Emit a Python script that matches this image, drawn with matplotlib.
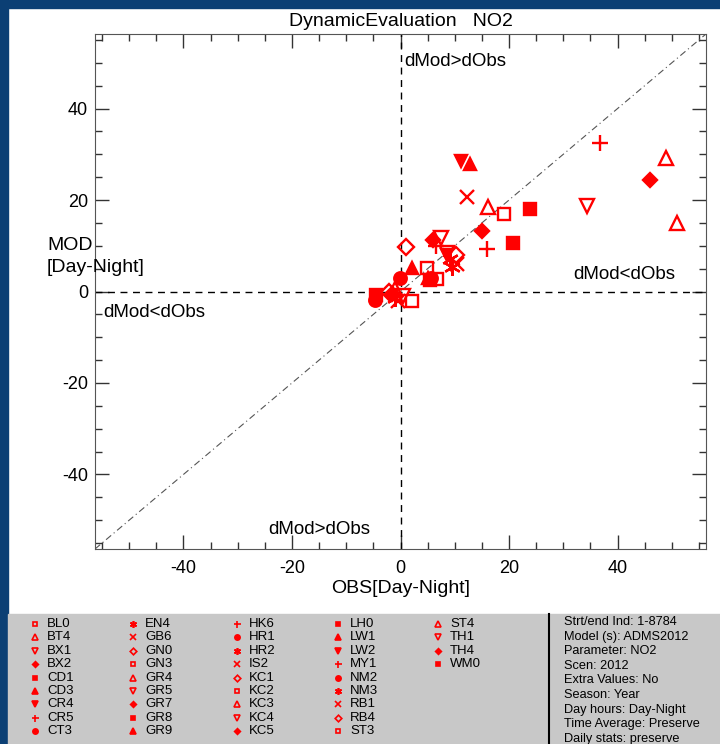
import numpy as np
import matplotlib.pyplot as plt
from matplotlib.patches import Rectangle

plt.rcParams['font.family'] = ['Liberation Sans', 'DejaVu Sans']
plt.rcParams['axes.unicode_minus'] = False

# sites, marker code, obs and mod (Day-Night differences)
sites = ['BL0', 'BT4', 'BX1', 'BX2', 'CD1', 'CD3', 'CR4', 'CR5', 'CT3', 'EN4',
         'GB6', 'GN0', 'GN3', 'GR4', 'GR5', 'GR7', 'GR8', 'GR9', 'HK6', 'HR1',
         'HR2', 'IS2', 'KC1', 'KC2', 'KC3', 'KC4', 'KC5', 'LH0', 'LW1', 'LW2',
         'MY1', 'NM2', 'NM3', 'RB1', 'RB4', 'ST3', 'ST4', 'TH1', 'TH4', 'WM0']
kinds = ['osq', 'otri', 'odtri', 'fdia', 'fsq', 'ftri', 'fdtri', 'plus', 'fcirc', 'ast',
         'x', 'odia', 'osq', 'otri', 'odtri', 'fdia', 'fsq', 'ftri', 'plus', 'fcirc',
         'ast', 'x', 'odia', 'osq', 'otri', 'odtri', 'fdia', 'fsq', 'ftri', 'fdtri',
         'plus', 'fcirc', 'ast', 'x', 'odia', 'osq', 'otri', 'odtri', 'fdia', 'fsq']
obs = [19.1, 48.9, 34.4, 46.0, 23.9, 12.9, 11.1, 36.8, -0.1, 9.1,
       12.3, 1.0, 4.9, 16.2, 8.6, 15.0, 20.7, 2.2, 15.9, 5.6,
       9.4, 10.4, 10.2, 6.7, -1.0, 7.4, 6.0, 5.4, 5.0, 8.5,
       6.5, -4.7, -1.0, -0.5, -2.2, 2.1, 50.9, 0.5, -1.5, -4.5]
mod = [17.0, 29.2, 18.7, 24.3, 18.1, 27.8, 28.5, 32.4, 3.0, 7.2,
       20.6, 9.7, 5.2, 18.4, 8.4, 13.2, 10.7, 5.2, 9.4, 3.0,
       5.4, 6.1, 7.9, 2.8, 0.5, 11.6, 11.2, 2.5, 3.0, 7.9,
       10.0, -1.9, -1.5, -2.0, -0.1, -2.0, 14.9, -1.0, -0.5, -0.8]

info = ['Strt/end Ind: 1-8784', 'Model (s): ADMS2012', 'Parameter: NO2',
        'Scen: 2012', 'Extra Values: No', 'Season: Year', 'Day hours: Day-Night',
        'Time Average: Preserve', 'Daily stats: preserve']

# marker, size, filled
styles = {'osq': ('s', 8.5, False), 'otri': ('^', 10, False), 'odtri': ('v', 10, False),
          'fdia': ('D', 7, True), 'fsq': ('s', 8, True), 'ftri': ('^', 9, True),
          'fdtri': ('v', 9, True), 'plus': ('+', 12, True), 'fcirc': ('o', 9, True),
          'ast': ((6, 2, 0), 12, True), 'x': ('x', 10, True), 'odia': ('D', 8, False)}

lim = 56.3
fig = plt.figure(figsize=(7.2, 7.44), dpi=100)
W, H = 720, 744

# frame and legend panel
fig.patches.append(Rectangle((0, 1 - 8 / H), 1, 8 / H, transform=fig.transFigure,
                             color='#0b3f74', zorder=0))
fig.patches.append(Rectangle((0, 0), 8 / W, 1, transform=fig.transFigure,
                             color='#0b3f74', zorder=0))
fig.patches.append(Rectangle((8 / W, 0), 1, 130 / H, transform=fig.transFigure,
                             color='#c8c8c8', zorder=0))
fig.add_artist(plt.Line2D([549 / W, 549 / W], [0, 130 / H], color='black', lw=1.5))

ax = fig.add_axes([95 / W, 1 - 549 / H, 611 / W, 515 / H])
ax.set_xlim(-lim, lim)
ax.set_ylim(-lim, lim)
ax.plot([-lim, lim], [-lim, lim], color='#555555', lw=0.8, ls='-.', dashes=(6, 3, 1, 3))
ax.axhline(0, color='black', lw=1, ls=(0, (5, 4)))
ax.axvline(0, color='black', lw=1, ls=(0, (5, 4)))

for k, xo, ym in zip(kinds, obs, mod):
    m, s, f = styles[k]
    ax.plot(xo, ym, ls='none', marker=m, ms=s, mew=1.7, color='red',
            mfc='red' if f else 'none', mec='red')

ax.set_xticks([-40, -20, 0, 20, 40])
ax.set_yticks([-40, -20, 0, 20, 40])
ax.set_xticks(np.arange(-55, 56, 5), minor=True)
ax.set_yticks(np.arange(-55, 56, 5), minor=True)
ax.tick_params(which='both', direction='in', top=True, right=True, labelsize=13, color='#333333')
ax.tick_params(which='major', length=10, width=1)
ax.tick_params(which='minor', length=5, width=1)
ax.tick_params(axis='x', which='major', pad=8)
ax.tick_params(axis='y', which='major', pad=5)
for sp in ax.spines.values():
    sp.set_color('#555555')
ax.set_xlabel('OBS[Day-Night]', fontsize=14, labelpad=2)
ax.set_title('DynamicEvaluation   NO2', fontsize=14, pad=6)

ax.text(0.7, 50.3, 'dMod>dObs', fontsize=13.5, va='center')
ax.text(31.8, 3.7, 'dMod<dObs', fontsize=13.5, va='center')
ax.text(-54.8, -4.6, 'dMod<dObs', fontsize=13.5, va='center')
ax.text(-24.4, -52.0, 'dMod>dObs', fontsize=13.5, va='center')

fig.text(47 / W, 1 - 245 / H, 'MOD', fontsize=14, va='center')
fig.text(47 / W, 1 - 268 / H, '[Day-Night]', fontsize=14, va='center')

# legend
colx = [35, 133, 237, 338, 438]
for i, (name, k) in enumerate(zip(sites, kinds)):
    c, r = divmod(i, 9)
    px, py = colx[c], 624 + r * 13.4
    m, s, f = styles[k]
    fig.add_artist(plt.Line2D([px / W], [1 - py / H], ls='none', marker=m, ms=s * 0.42,
                              mew=1.2, color='red', mfc='red' if f else 'none', mec='red'))
    fig.text((px + 12) / W, 1 - py / H, name, fontsize=9.5, va='center')

for i, line in enumerate(info):
    fig.text(564 / W, 1 - (622 + i * 14.6) / H, line, fontsize=9.2, va='center')

fig.savefig('out.png', dpi=100)
